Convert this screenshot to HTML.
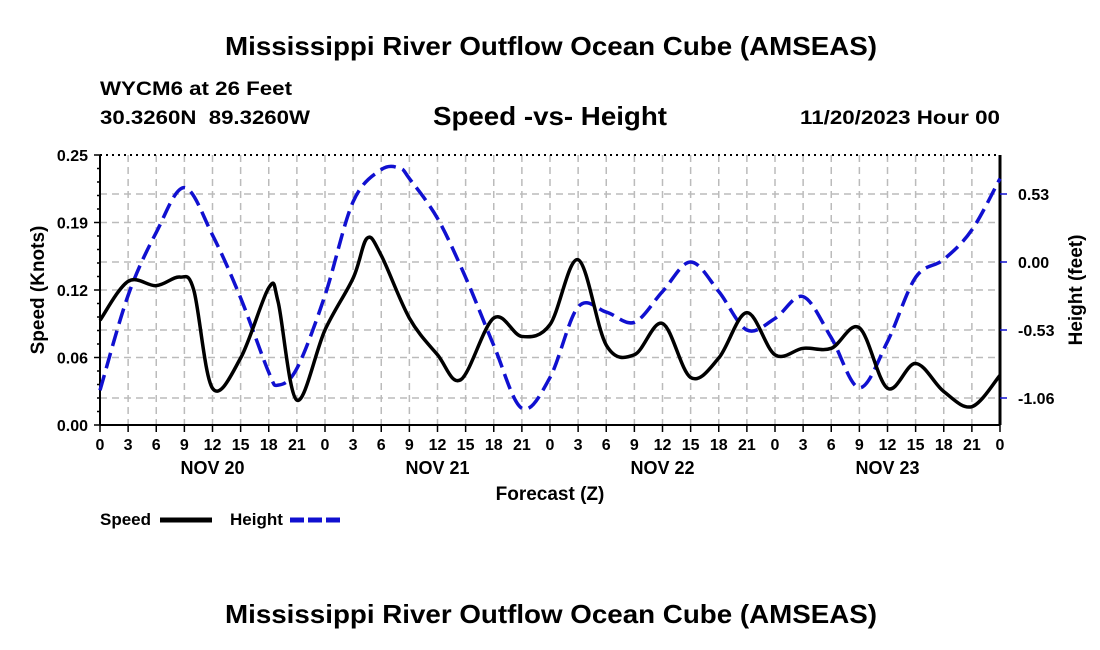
<!DOCTYPE html>
<html><head><meta charset="utf-8"><style>
body{margin:0;background:#fff;}
svg{display:block;font-family:"Liberation Sans",Arial,sans-serif;font-weight:bold;}
</style></head><body>
<svg id="chart" width="1100" height="650" viewBox="0 0 1100 650">
<text x="225" y="55" font-size="26" textLength="652" lengthAdjust="spacingAndGlyphs">Mississippi River Outflow Ocean Cube (AMSEAS)</text>
<text x="100" y="95" font-size="19" textLength="192" lengthAdjust="spacingAndGlyphs">WYCM6 at 26 Feet</text>
<text x="100" y="124" font-size="19" textLength="210" lengthAdjust="spacingAndGlyphs" xml:space="preserve">30.3260N  89.3260W</text>
<text x="433" y="125" font-size="26" textLength="234" lengthAdjust="spacingAndGlyphs">Speed -vs- Height</text>
<text x="800" y="124" font-size="19" textLength="200" lengthAdjust="spacingAndGlyphs">11/20/2023 Hour 00</text>
<g id="grid"></g>
<g id="axes"></g>
<g id="series"></g>
<text transform="translate(44,290) rotate(-90)" font-size="19" text-anchor="middle">Speed (Knots)</text>
<text transform="translate(1082,290) rotate(-90)" font-size="19" text-anchor="middle">Height (feet)</text>
<text x="550" y="500" font-size="19" text-anchor="middle">Forecast (Z)</text>
<g>
<text x="100" y="525" font-size="17">Speed</text>
<line x1="160" y1="520" x2="212" y2="520" stroke="#000" stroke-width="5"/>
<text x="230" y="525" font-size="17">Height</text>
<line x1="290" y1="520" x2="342" y2="520" stroke="#1010d0" stroke-width="5" stroke-dasharray="14,4"/>
</g>
<text x="225" y="623" font-size="26" textLength="652" lengthAdjust="spacingAndGlyphs">Mississippi River Outflow Ocean Cube (AMSEAS)</text>
</svg>
<script>
const speedHours=[0,3,6,8.5,10,12,15,18,19,21,24,27,28.5,30,33,36,38.5,42,45,48,51,54,57,60,63,66,69,72,75,78,81,84,87,90,93,96];
const speedVals=[0.097,0.133,0.129,0.137,0.125,0.034,0.062,0.127,0.114,0.023,0.088,0.136,0.173,0.157,0.099,0.065,0.042,0.099,0.082,0.093,0.153,0.074,0.065,0.094,0.044,0.062,0.104,0.065,0.071,0.071,0.090,0.034,0.057,0.031,0.017,0.046];
const heightHours=[0,3,6,9,12,15,18,19,21,24,27,30,32,33,36,39,42,45,48,51,54,57,60,63,66,69,72,75,78,81,84,87,90,93,96];
const heightVals=[-1.0,-0.26,0.23,0.58,0.21,-0.28,-0.86,-0.96,-0.83,-0.26,0.47,0.72,0.73,0.65,0.34,-0.12,-0.65,-1.14,-0.9,-0.35,-0.39,-0.47,-0.23,0.0,-0.23,-0.53,-0.44,-0.27,-0.59,-0.98,-0.62,-0.12,0.02,0.25,0.65];
const speedTicks=[0,0.0625,0.125,0.1875,0.25];
const speedTickLabels=["0.00","0.06","0.12","0.19","0.25"];
const heightTicks=[0.53,0,-0.53,-1.06];
const heightTickLabels=["0.53","0.00","-0.53","-1.06"];
const dayLabels=["NOV 20","NOV 21","NOV 22","NOV 23"];

const NS="http://www.w3.org/2000/svg";
const X0=100,X1=1000,Y0=425,Y1=155;
const xs=h=>X0+(h/96)*(X1-X0);
const ys=v=>Y0-(v/0.25)*(Y0-Y1);
const yh=f=>262-(f/0.53)*68;
function mk(tag,attrs,parent){const e=document.createElementNS(NS,tag);for(const k in attrs)e.setAttribute(k,attrs[k]);parent.appendChild(e);return e;}
const grid=document.getElementById('grid'),axes=document.getElementById('axes'),series=document.getElementById('series');
for(let h=3;h<96;h+=3){const l=mk('line',{x1:xs(h),x2:xs(h),y1:Y1,y2:Y0,stroke:'#bbb','stroke-width':1.5,'stroke-dasharray':'7,5'},grid);

}
speedTicks.slice(1,4).forEach(v=>{const l=mk('line',{x1:X0,x2:X1,y1:ys(v),y2:ys(v),stroke:'#bbb','stroke-width':1.5,'stroke-dasharray':'7,5'},grid);

});
heightTicks.forEach(v=>{const l=mk('line',{x1:X0,x2:X1,y1:yh(v),y2:yh(v),stroke:'#bbb','stroke-width':1.5,'stroke-dasharray':'7,5'},grid);

});
mk('line',{x1:X0,x2:X0,y1:Y1,y2:Y0,stroke:'#000','stroke-width':2},axes);
mk('line',{x1:X1,x2:X1,y1:Y1,y2:Y0,stroke:'#000','stroke-width':3},axes);
mk('line',{x1:X0,x2:X1,y1:Y0,y2:Y0,stroke:'#000','stroke-width':2},axes);
mk('line',{x1:X0,x2:X1,y1:Y1,y2:Y1,stroke:'#000','stroke-width':2,'stroke-dasharray':'2,4'},axes);
for(let v=0;v<=0.25001;v+=0.0125){mk('line',{x1:X0-(Math.abs(v/0.0625-Math.round(v/0.0625))<0.01?6:3),x2:X0,y1:ys(v),y2:ys(v),stroke:'#000','stroke-width':1.5},axes);}
speedTicks.forEach((v,i)=>{const t=mk('text',{x:X0-12,y:ys(v)+6,'font-size':16,'text-anchor':'end'},axes);t.textContent=speedTickLabels[i];

});
heightTicks.forEach((v,i)=>{mk('line',{x1:X1,x2:X1+7,y1:yh(v),y2:yh(v),stroke:'#1010d0','stroke-width':1.5},axes);
const t=mk('text',{x:X1+18,y:yh(v)+6,'font-size':16},axes);t.textContent=heightTickLabels[i];

});
for(let h=0;h<=96;h+=3){mk('line',{x1:xs(h),x2:xs(h),y1:Y0,y2:Y0+7,stroke:'#000','stroke-width':1.5},axes);
const t=mk('text',{x:xs(h),y:Y0+25,'font-size':16,'text-anchor':'middle'},axes);t.textContent=String(h%24);

}
dayLabels.forEach((d,i)=>{const t=mk('text',{x:xs(12+24*i),y:Y0+49,'font-size':18,'text-anchor':'middle'},axes);t.textContent=d;

});
function smooth(px,py){let d=`M${px[0]},${py[0]}`;const n=px.length;
for(let i=0;i<n-1;i++){const x0=px[Math.max(i-1,0)],y0=py[Math.max(i-1,0)],x1=px[i],y1=py[i],x2=px[i+1],y2=py[i+1],x3=px[Math.min(i+2,n-1)],y3=py[Math.min(i+2,n-1)];
const c1x=x1+(x2-x0)/6,c1y=y1+(y2-y0)/6,c2x=x2-(x3-x1)/6,c2y=y2-(y3-y1)/6;d+=` C${c1x},${c1y} ${c2x},${c2y} ${x2},${y2}`;}return d;}
const hp=mk('path',{d:smooth(heightHours.map(xs),heightVals.map(yh)),fill:'none',stroke:'#1010d0','stroke-width':3.5,'stroke-dasharray':'16,7'},series);


const sp=mk('path',{d:smooth(speedHours.map(xs),speedVals.map(ys)),fill:'none',stroke:'#000','stroke-width':3.5},series);


</script>
</body></html>
